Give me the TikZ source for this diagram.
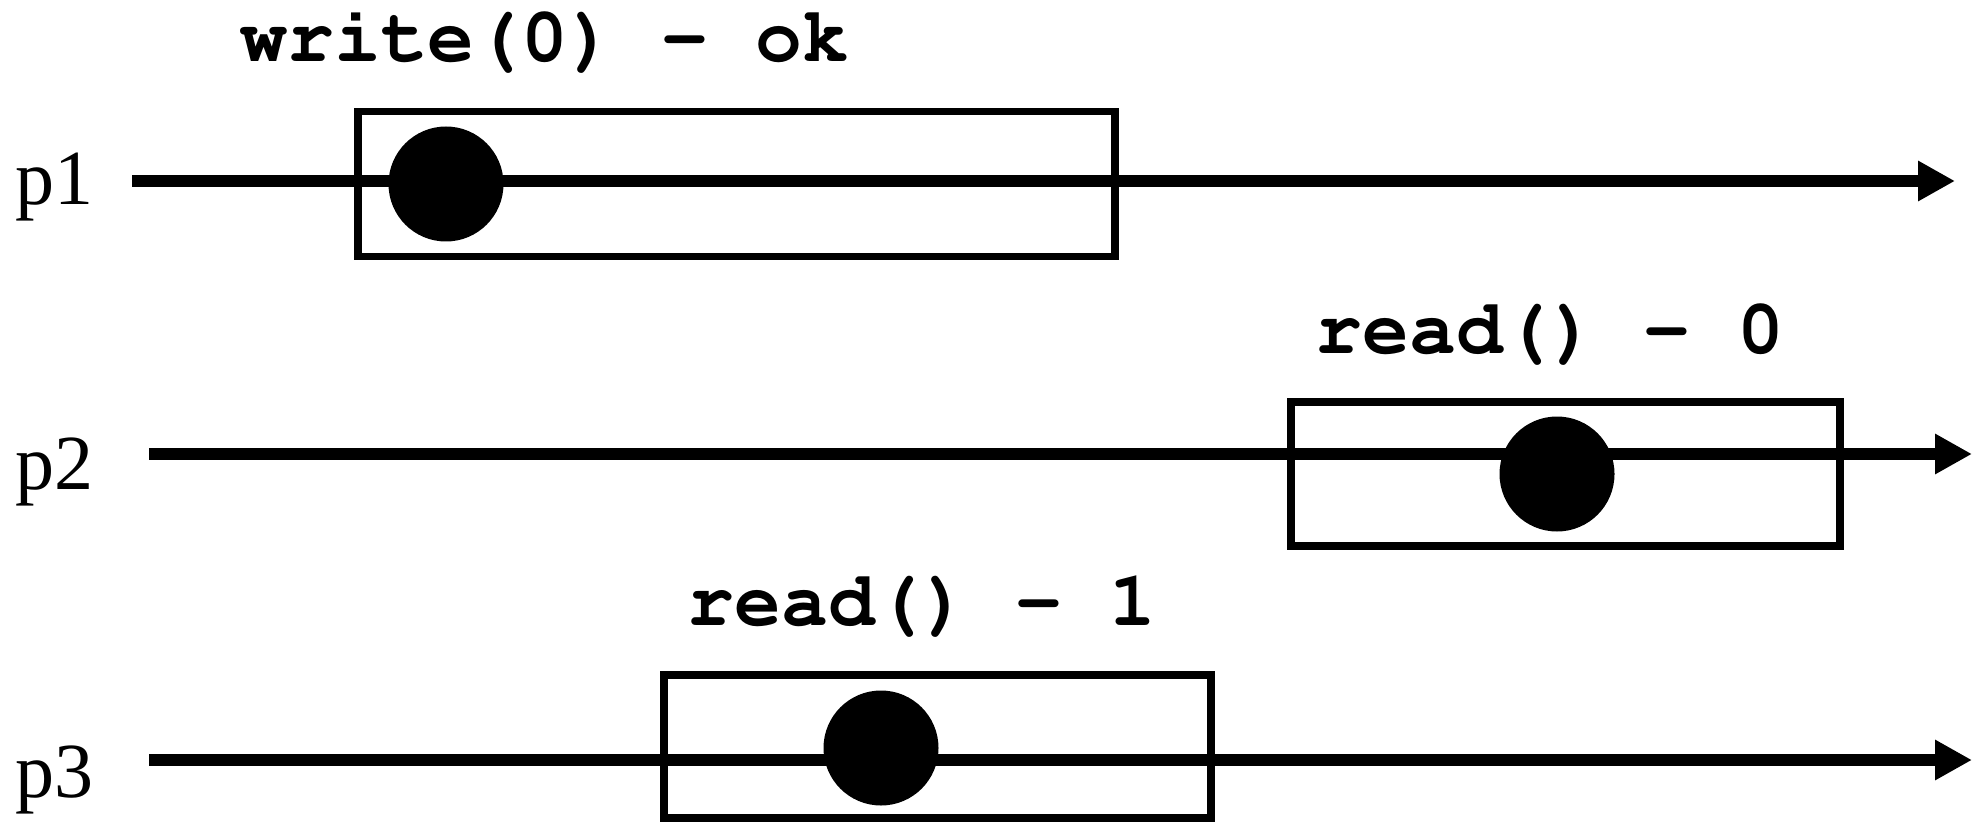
\documentclass[tikz,border=0pt]{standalone}
\usepackage{fontspec}
\setmainfont{Liberation Serif}
\newcommand{\codefont}{\fontencoding{OT1}\fontfamily{pcr}\fontseries{b}\selectfont}
\usetikzlibrary{arrows.meta}

\begin{document}
\begin{tikzpicture}[
    timeline/.style={-{Triangle[length=3.7mm, width=3.8mm]}, line width=3.6pt},
    box/.style={draw, rectangle, line width=2.2pt, inner sep=0pt},
    dot/.style={circle, fill=black, minimum size=1.15cm, inner sep=0pt},
    proc/.style={anchor=base west, inner sep=0pt, font=\fontsize{22.2}{26}\selectfont},
    oplabel/.style={anchor=base, inner sep=0pt, font=\fontsize{22.2}{26}\codefont}
]
    \useasboundingbox (0,0) rectangle (19.83,8.22);

    % process names and their time lines
    \node[proc] (p1) at (0.15,6.17) {p1};
    \node[proc] (p2) at (0.15,3.33) {p2};
    \node[proc] (p3) at (0.15,0.25) {p3};
    \coordinate (s1) at (1.32,6.41);
    \coordinate (e1) at (19.55,6.41);
    \coordinate (s2) at (1.49,3.68);
    \coordinate (e2) at (19.72,3.68);
    \coordinate (s3) at (1.49,0.62);
    \coordinate (e3) at (19.72,0.62);
    \draw[timeline] (s1) -- (e1);
    \draw[timeline] (s2) -- (e2);
    \draw[timeline] (s3) -- (e3);

    % operations
    \node[box, minimum width=7.57cm, minimum height=1.45cm] (op1) at (7.365,6.38) {};
    \node[box, minimum width=5.49cm, minimum height=1.44cm] (op2) at (15.655,3.48) {};
    \node[box, minimum width=5.47cm, minimum height=1.43cm] (op3) at (9.375,0.755) {};
    \node[dot] (pt1) at (4.46,6.38) {};
    \node[dot] (pt2) at (15.57,3.48) {};
    \node[dot] (pt3) at (8.81,0.74) {};
    \node[oplabel] (lab1) at (5.45,7.60) {write(0) - ok};
    \node[oplabel] (lab2) at (15.50,4.69) {read() - 0};
    \node[oplabel] (lab3) at (9.22,1.97) {read() - 1};
\end{tikzpicture}
\end{document}
